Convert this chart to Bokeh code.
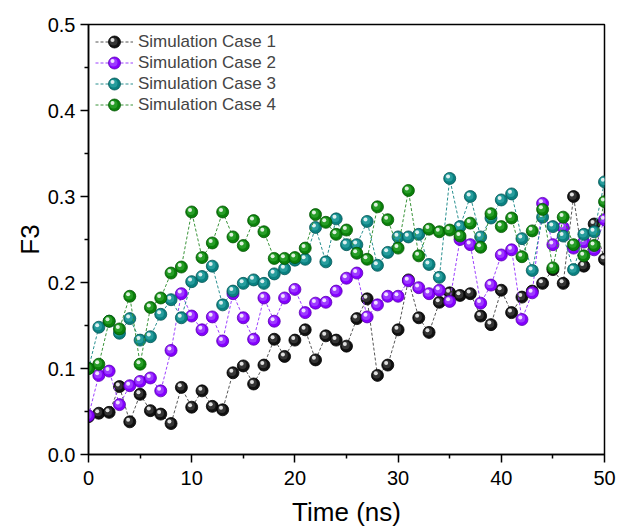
from bokeh.plotting import figure
from bokeh.models import ColumnDataSource, Range1d, Legend, LegendItem, NumeralTickFormatter, FixedTicker
from bokeh.transform import dodge
from bokeh.embed import file_html
from bokeh.resources import INLINE

time_ns = list(range(0, 51))

case1 = [0.044, 0.048, 0.049, 0.079, 0.038, 0.070, 0.051, 0.047, 0.036, 0.078,
         0.055, 0.074, 0.056, 0.052, 0.095, 0.103, 0.082, 0.104, 0.134, 0.114,
         0.133, 0.145, 0.110, 0.138, 0.133, 0.126, 0.158, 0.181, 0.092, 0.104,
         0.145, 0.203, 0.159, 0.142, 0.177, 0.188, 0.185, 0.187, 0.161, 0.151,
         0.191, 0.165, 0.183, 0.190, 0.199, 0.215, 0.199, 0.300, 0.219, 0.268,
         0.227]
case2 = [0.045, 0.092, 0.097, 0.058, 0.080, 0.085, 0.089, 0.074, 0.121, 0.187,
         0.161, 0.145, 0.160, 0.132, 0.187, 0.159, 0.134, 0.182, 0.155, 0.182,
         0.192, 0.165, 0.176, 0.177, 0.190, 0.205, 0.211, 0.160, 0.174, 0.184,
         0.184, 0.202, 0.194, 0.187, 0.191, 0.178, 0.250, 0.244, 0.176, 0.197,
         0.232, 0.238, 0.157, 0.188, 0.292, 0.244, 0.264, 0.240, 0.247, 0.238,
         0.273]
case3 = [0.100, 0.148, 0.155, 0.141, 0.158, 0.133, 0.137, 0.163, 0.180, 0.159,
         0.201, 0.207, 0.219, 0.174, 0.190, 0.199, 0.203, 0.199, 0.210, 0.216,
         0.226, 0.227, 0.264, 0.224, 0.274, 0.244, 0.244, 0.271, 0.220, 0.235,
         0.253, 0.253, 0.256, 0.221, 0.206, 0.321, 0.265, 0.300, 0.253, 0.275,
         0.296, 0.303, 0.251, 0.214, 0.276, 0.265, 0.254, 0.215, 0.256, 0.259,
         0.317]
case4 = [0.100, 0.105, 0.155, 0.146, 0.184, 0.105, 0.171, 0.182, 0.211, 0.218,
         0.282, 0.229, 0.246, 0.282, 0.253, 0.243, 0.272, 0.259, 0.228, 0.228,
         0.229, 0.240, 0.279, 0.270, 0.256, 0.261, 0.234, 0.227, 0.288, 0.273,
         0.240, 0.307, 0.231, 0.262, 0.259, 0.261, 0.254, 0.269, 0.241, 0.280,
         0.265, 0.275, 0.230, 0.260, 0.285, 0.217, 0.276, 0.244, 0.231, 0.243,
         0.294]

names = ["Simulation Case 1", "Simulation Case 2", "Simulation Case 3", "Simulation Case 4"]
x_ticks = [0, 10, 20, 30, 40, 50]
y_ticks = [0.0, 0.1, 0.2, 0.3, 0.4, 0.5]

series = [case1, case2, case3, case4]
base_colors = ["#111111", "#8400FF", "#0A8080", "#0A800A"]
dark_colors = ["#000000", "#5A00B0", "#045555", "#045504"]
mid_colors = ["#3A3A3A", "#A040FF", "#2AA0A0", "#2AA02A"]
line_colors = ["#555555", "#9C40FF", "#2A9090", "#3A943A"]

FONT = "Liberation Sans"

p = figure(width=617, height=529, x_range=Range1d(0, 50), y_range=Range1d(0, 0.5),
           output_backend="svg", toolbar_location=None,
           min_border_left=88, min_border_right=13, min_border_top=24, min_border_bottom=71)

p.xgrid.visible = False
p.ygrid.visible = False
p.outline_line_color = "black"
p.outline_line_width = 1.5

p.xaxis.ticker = FixedTicker(ticks=x_ticks, minor_ticks=[t + 5 for t in x_ticks[:-1]])
p.yaxis.ticker = FixedTicker(ticks=y_ticks, minor_ticks=[round(t + 0.05, 2) for t in y_ticks[:-1]])
p.yaxis.formatter = NumeralTickFormatter(format="0.0")

for ax in (p.xaxis, p.yaxis):
    ax.axis_line_width = 1.5
    ax.major_tick_line_width = 1.5
    ax.minor_tick_line_width = 1.5
    ax.major_tick_out = 8
    ax.major_tick_in = 0
    ax.minor_tick_out = 4
    ax.minor_tick_in = 0
    ax.major_label_text_font = FONT
    ax.major_label_text_font_size = "20px"
    ax.major_label_text_color = "black"
    ax.axis_label_text_font = FONT
    ax.axis_label_text_font_size = "26px"
    ax.axis_label_text_font_style = "normal"
    ax.axis_label_text_color = "black"

p.xaxis.axis_label = "Time (ns)"
p.yaxis.axis_label = "F3"
p.xaxis.major_label_standoff = 8
p.xaxis.axis_label_standoff = 9
p.yaxis.major_label_standoff = 5
p.yaxis.axis_label_standoff = 0

main_items, mid_items, hl_items = [], [], []
for name, vals, bc, dc, mc, lc in zip(names, series, base_colors, dark_colors, mid_colors, line_colors):
    src = ColumnDataSource(data=dict(x=time_ns, y=vals))
    lr = p.line("x", "y", source=src, line_color=lc, line_width=1, line_dash="3 2")
    br = p.ellipse("x", "y", source=src, width=12, height=12,
                   width_units="screen", height_units="screen",
                   fill_color=bc, line_color=dc, line_width=0.8)
    mr = p.ellipse(dodge("x", -0.08, range=p.x_range), dodge("y", 0.0010, range=p.y_range),
                   source=src, width=8, height=8, width_units="screen", height_units="screen",
                   fill_color=mc, line_color=None, fill_alpha=0.9)
    hr = p.ellipse(dodge("x", -0.16, range=p.x_range), dodge("y", 0.0024, range=p.y_range),
                   source=src, width=4, height=4, width_units="screen", height_units="screen",
                   fill_color="white", line_color=None, fill_alpha=0.85)
    main_items.append(LegendItem(label=name, renderers=[lr, br]))
    mid_items.append(LegendItem(label=" ", renderers=[mr]))
    hl_items.append(LegendItem(label=" ", renderers=[hr]))

legend = Legend(items=main_items, location="top_left", margin=0, padding=7,
                border_line_alpha=0, background_fill_alpha=0,
                label_text_font=FONT, label_text_font_size="17px",
                glyph_width=38, glyph_height=15, label_height=21,
                spacing=0, label_standoff=5)
legend_mid = Legend(items=mid_items, location="top_left", margin=0, padding=6,
                    border_line_alpha=0, background_fill_alpha=0,
                    label_text_font_size="1px", label_text_alpha=0,
                    glyph_width=38, glyph_height=10, label_height=21,
                    spacing=0, label_standoff=0)
legend_hl = Legend(items=hl_items, location="top_left", margin=0, padding=5,
                   border_line_alpha=0, background_fill_alpha=0,
                   label_text_font_size="1px", label_text_alpha=0,
                   glyph_width=38, glyph_height=5, label_height=21,
                   spacing=0, label_standoff=0)
p.add_layout(legend)
p.add_layout(legend_mid)
p.add_layout(legend_hl)

open("out.html", "w").write(file_html(p, INLINE))
